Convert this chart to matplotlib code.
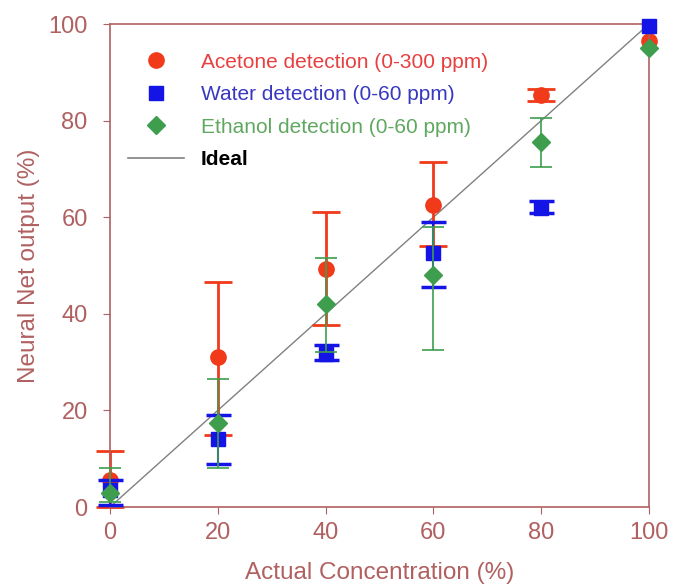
import matplotlib
matplotlib.use("Agg")
from matplotlib import pyplot as plt
from matplotlib.lines import Line2D

nan = float("nan")
conc = [0, 20, 40, 60, 80, 100]

acetone = [5.5, 31, 49.3, 62.5, 85.3, 96.5]
acetone_lo = [0, 15, 37.7, 54, 84, nan]
acetone_hi = [11.5, 46.5, 61, 71.5, 86.5, nan]

water = [3.5, 14, 31.6, 52.5, 62, 99.5]
water_lo = [0.5, 8.9, 30.5, 45.5, 60.8, nan]
water_hi = [5.5, 19, 33.5, 59, 63.4, nan]

ethanol = [3, 17.3, 42, 48, 75.5, 95]
ethanol_lo = [1, 8, 32, 32.5, 70.3, nan]
ethanol_hi = [8, 26.5, 51.5, 58, 80.5, nan]

ideal = [0, 100]

labels = ["Acetone detection (0-300 ppm)", "Water detection (0-60 ppm)",
          "Ethanol detection (0-60 ppm)", "Ideal"]

axis_col = "#b06060"
red, blue, green = "#f03a1a", "#1414e6", "#3e9e4e"
plt.rcParams["font.family"] = ["Liberation Sans", "DejaVu Sans"]

fig = plt.figure(figsize=(6.73, 5.86), dpi=100)
ax = fig.add_axes([0.1634, 0.1348, 0.8009, 0.8242])

def err(vals, lo, hi):
    return [[v - l for v, l in zip(vals, lo)], [h - v for v, h in zip(vals, hi)]]

def noclip(container):
    for child in container.get_children():
        child.set_clip_on(False)

ax.plot(ideal, ideal, color="#808080", lw=1.0, zorder=1)
noclip(ax.errorbar(conc, acetone, yerr=err(acetone, acetone_lo, acetone_hi), fmt="o",
                   color=red, ms=11, capsize=10, elinewidth=2, capthick=2, zorder=2))
noclip(ax.errorbar(conc, water, yerr=err(water, water_lo, water_hi), fmt="s",
                   color=blue, ms=10, capsize=9, elinewidth=1.5, capthick=2.5, zorder=3))
noclip(ax.errorbar(conc, ethanol, yerr=err(ethanol, ethanol_lo, ethanol_hi), fmt="D",
                   color=green, ms=9, capsize=8, elinewidth=1.2, capthick=1.2, zorder=4))

ax.set_xlim(0, 100)
ax.set_ylim(0, 100)
ax.set_xticks([0, 20, 40, 60, 80, 100])
ax.set_yticks([0, 20, 40, 60, 80, 100])
for s in ax.spines.values():
    s.set_color(axis_col)
    s.set_linewidth(1.2)
ax.tick_params(colors=axis_col, labelsize=17, direction="out", length=5)
ax.tick_params(axis="x", pad=6)
ax.tick_params(axis="y", pad=11)
for lbl in ax.get_xticklabels() + ax.get_yticklabels():
    lbl.set_color(axis_col)
ax.set_xlabel("Actual Concentration (%)", fontsize=17.5, color=axis_col, labelpad=13)
ax.set_ylabel("Neural Net output (%)", fontsize=17.5, color=axis_col, labelpad=6)

handles = [
    Line2D([], [], ls="none", marker="o", ms=11, color=red),
    Line2D([], [], ls="none", marker="s", ms=10, color=blue),
    Line2D([], [], ls="none", marker="D", ms=9, color=green),
    Line2D([], [], color="#808080", lw=1.2),
]
leg = ax.legend(handles, labels, loc="upper left", bbox_to_anchor=(0.033, 0.941),
                frameon=False, fontsize=15, borderpad=0, borderaxespad=0,
                handlelength=2.7, handletextpad=0.8, labelspacing=0.65)
text_cols = ["#e84040", "#3838c0", "#60a860", "black"]
for t, c in zip(leg.get_texts(), text_cols):
    t.set_color(c)
leg.get_texts()[3].set_fontweight("bold")

fig.savefig("out.png", dpi=100)
